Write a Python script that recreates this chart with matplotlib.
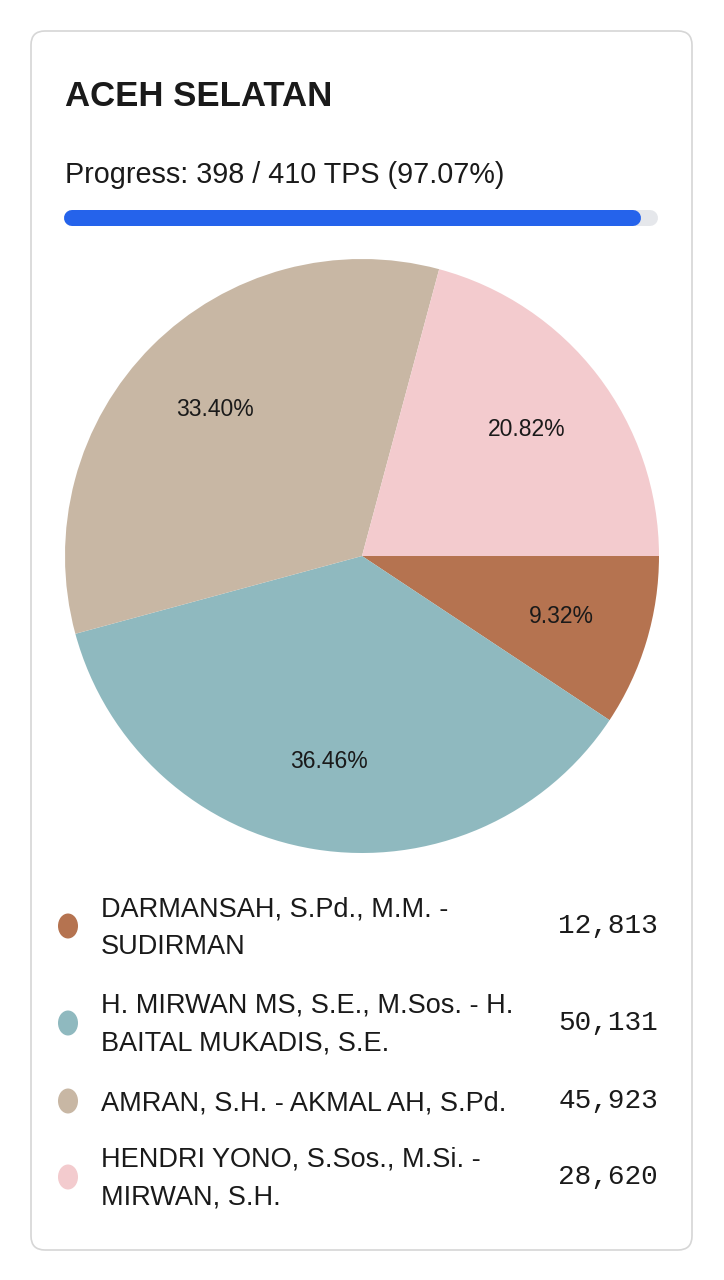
import matplotlib.pyplot as plt
from matplotlib.patches import FancyBboxPatch, Ellipse

# ---------------------------------------------------------------
# data
# ---------------------------------------------------------------
region = "ACEH SELATAN"
tps_done = 398
tps_total = 410

candidates = [
    "DARMANSAH, S.Pd., M.M. -\nSUDIRMAN",
    "H. MIRWAN MS, S.E., M.Sos. - H.\nBAITAL MUKADIS, S.E.",
    "AMRAN, S.H. - AKMAL AH, S.Pd.",
    "HENDRI YONO, S.Sos., M.Si. -\nMIRWAN, S.H.",
]
votes = [12813, 50131, 45923, 28620]
colors = ["#b57350", "#8fb9bf", "#c8b7a4", "#f3cbce"]

W, H = 724, 1280
TEXT = "#1a1a1a"

plt.rcParams["font.family"] = ["Liberation Sans", "DejaVu Sans"]

fig = plt.figure(figsize=(W / 100, H / 100), dpi=100, facecolor="white")

# background axes in pixel coordinates
bg = fig.add_axes([0, 0, 1, 1])
bg.set_xlim(0, W)
bg.set_ylim(H, 0)
bg.axis("off")

card = FancyBboxPatch(
    (31, 31), 661, 1219,
    boxstyle="round,pad=0,rounding_size=14",
    facecolor="white", edgecolor="#d6d6d6", linewidth=1.2
)
bg.add_patch(card)

bg.text(65, 106, region, fontsize=25, fontweight="bold",
        color=TEXT, va="baseline", ha="left")

pct_done = tps_done / tps_total * 100
bg.text(65, 183, f"Progress: {tps_done} / {tps_total} TPS ({pct_done:.2f}%)",
        fontsize=20.7, color=TEXT, va="baseline", ha="left")

# ---------------------------------------------------------------
# progress bar
# ---------------------------------------------------------------
bar_l, bar_r, bar_y, bar_h = 64, 658, 218, 16
cap = bar_h / 2
pb = fig.add_axes([(bar_l + cap) / W, 1 - (bar_y + 20) / H,
                   (bar_r - bar_l - 2 * cap) / W, 40 / H])
pb.set_xlim(0, tps_total)
pb.set_ylim(-1, 1)
pb.axis("off")
lw_pt = bar_h * 72 / 100
pb.plot([0, tps_total], [0, 0], color="#e5e7eb", linewidth=lw_pt,
        solid_capstyle="round", clip_on=False)
pb.plot([0, tps_done], [0, 0], color="#2563eb", linewidth=lw_pt,
        solid_capstyle="round", clip_on=False)

# ---------------------------------------------------------------
# pie
# ---------------------------------------------------------------
cx, cy, r = 362, 556, 297
pax = fig.add_axes([(cx - r) / W, 1 - (cy + r) / H, 2 * r / W, 2 * r / H])
wedges, _, autotexts = pax.pie(
    votes,
    colors=colors,
    startangle=0,
    counterclock=False,
    autopct="%.2f%%",
    pctdistance=0.70,
    wedgeprops=dict(linewidth=0),
    textprops=dict(fontsize=16.5, color=TEXT),
)
pax.set_xlim(-1, 1)
pax.set_ylim(-1, 1)
pax.set_aspect("equal")
pax.axis("off")

# ---------------------------------------------------------------
# legend rows
# ---------------------------------------------------------------
row_centers = [925, 1022, 1100, 1176]
line_gap = 38
for name, v, c, yc in zip(candidates, votes, colors, row_centers):
    bg.add_patch(Ellipse((68, yc + 1), 20, 25, facecolor=c, edgecolor="none"))
    lines = name.split("\n")
    n = len(lines)
    for i, line in enumerate(lines):
        y = yc + (i - (n - 1) / 2) * line_gap
        bg.text(101, y, line, fontsize=19.5, color=TEXT,
                va="center_baseline", ha="left")
    bg.text(658, yc - 2, f"{v:,}", fontsize=20, color=TEXT,
            family="Liberation Mono", va="center_baseline", ha="right")

fig.savefig("out.png", dpi=100, facecolor="white")
plt.close(fig)
